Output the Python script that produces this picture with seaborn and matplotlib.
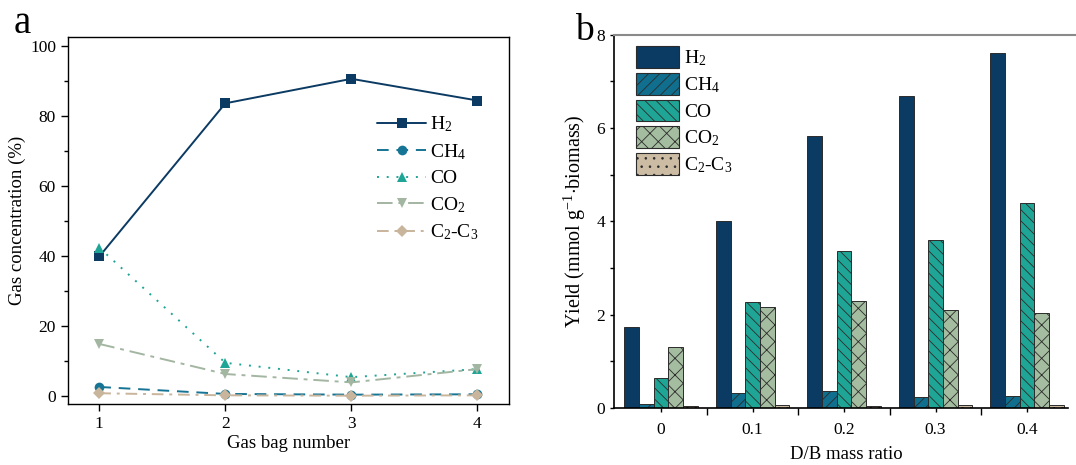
import numpy as np
import pandas as pd
import matplotlib
matplotlib.use("Agg")
import matplotlib.pyplot as plt
import seaborn as sns
from matplotlib.patches import Patch
from matplotlib.ticker import MultipleLocator

# panel a: gas concentration per bag (%)
gas_bags = [1, 2, 3, 4]
h2_conc = [39.8, 83.6, 90.6, 84.4]
ch4_conc = [2.5, 0.5, 0.3, 0.4]
co_conc = [42.3, 9.4, 5.3, 7.6]
co2_conc = [14.8, 6.2, 3.8, 7.6]
c2c3_conc = [0.7, 0.1, 0.0, 0.1]

# panel b: gas yield vs D/B ratio (mmol/g biomass)
db_ratio = ["0", "0.1", "0.2", "0.3", "0.4"]
h2_yield = [1.73, 4.01, 5.82, 6.69, 7.61]
ch4_yield = [0.09, 0.32, 0.35, 0.24, 0.26]
co_yield = [0.64, 2.27, 3.36, 3.61, 4.39]
co2_yield = [1.30, 2.16, 2.29, 2.10, 2.04]
c2c3_yield = [0.03, 0.06, 0.04, 0.06, 0.06]

gas_labels = [r"$\mathregular{H_2}$", r"$\mathregular{CH_4}$", "CO",
              r"$\mathregular{CO_2}$", r"$\mathregular{C_2}$-$\mathregular{C_3}$"]
line_colors = ["#0b3a63", "#167494", "#1fa596", "#a3b6a2", "#c9b49c"]
bar_colors = ["#0b3a63", "#106e8e", "#1fa596", "#a4bc9f", "#cdbca4"]
hatches = ["", "///", "\\\\\\", "xx", ".."]

sns.set_theme(style="ticks")
plt.rcParams["font.family"] = ["Liberation Serif", "DejaVu Serif"]
plt.rcParams["mathtext.fontset"] = "custom"
plt.rcParams["mathtext.rm"] = "Liberation Serif"
plt.rcParams["hatch.linewidth"] = 0.6
plt.rcParams["xtick.direction"] = "out"
plt.rcParams["ytick.direction"] = "out"
plt.rcParams["text.color"] = "black"
plt.rcParams["axes.labelcolor"] = "black"
plt.rcParams["xtick.color"] = "black"
plt.rcParams["ytick.color"] = "black"
plt.rcParams["axes.edgecolor"] = "black"

fig = plt.figure(figsize=(10.76, 4.65), dpi=100)
ax1 = fig.add_axes([0.063, 0.131, 0.410, 0.789])
ax2 = fig.add_axes([0.571, 0.123, 0.432, 0.802])

# ---- panel a
conc_df = pd.DataFrame({"bag": gas_bags * 5,
                        "gas": np.repeat(gas_labels, 4),
                        "value": h2_conc + ch4_conc + co_conc + co2_conc + c2c3_conc})
styles = [("-", "s"), ((0, (6, 4)), "o"), ((0, (1, 4)), "^"), ((0, (8, 3, 2, 3)), "v"), ((0, (6, 3, 1.5, 3)), "D")]
for g, c, (ls, mk) in zip(gas_labels, line_colors, styles):
    sub = conc_df[conc_df["gas"] == g]
    sns.lineplot(data=sub, x="bag", y="value", ax=ax1, color=c, linestyle=ls, marker=mk,
                 markersize=7 if mk != "D" else 6, markeredgewidth=0, lw=1.4, label=g)

ax1.set_xlim(0.75, 4.25)
ax1.set_ylim(-2.4, 102.5)
ax1.set_xticks(gas_bags)
ax1.yaxis.set_major_locator(MultipleLocator(20))
ax1.yaxis.set_minor_locator(MultipleLocator(10))
ax1.tick_params(labelsize=12.5, length=5, width=1)
ax1.tick_params(which="minor", length=3, width=1)
ax1.set_xlabel("Gas bag number", fontsize=13.5, labelpad=2)
ax1.set_ylabel("Gas concentration (%)", fontsize=13.5, labelpad=3)
for s in ax1.spines.values():
    s.set_linewidth(1.0)
ax1.legend(loc="upper left", bbox_to_anchor=(0.68, 0.815), frameon=False, fontsize=14,
           handlelength=2.5, labelspacing=0.4, handletextpad=0.2, borderpad=0)
fig.text(0.013, 1 - 33 / 465, "a", fontsize=28, va="baseline")

# ---- panel b
yield_df = pd.DataFrame({"ratio": db_ratio * 5,
                         "gas": np.repeat(gas_labels, 5),
                         "value": h2_yield + ch4_yield + co_yield + co2_yield + c2c3_yield})
sns.barplot(data=yield_df, x="ratio", y="value", hue="gas", hue_order=gas_labels,
            palette=bar_colors, ax=ax2, width=0.8, gap=0, edgecolor="#2b2b2b", linewidth=0.7,
            saturation=1, legend=False)
for cont, h in zip(ax2.containers, hatches):
    for bar in cont:
        bar.set_hatch(h)

ax2.set_xlim(-0.51, 4.57)
ax2.set_ylim(0, 8)
ax2.yaxis.set_major_locator(MultipleLocator(2))
ax2.yaxis.set_minor_locator(MultipleLocator(1))
ax2.set_xticks(np.arange(0.5, 4.0, 1.0), minor=True)
ax2.tick_params(labelsize=12.5, length=3, width=1)
ax2.tick_params(axis="x", which="minor", length=5, width=1)
ax2.tick_params(axis="y", which="minor", length=3, width=1)
ax2.tick_params(axis="x", pad=7)
ax2.set_xlabel("D/B mass ratio", fontsize=13.5, labelpad=6)
ax2.set_ylabel(r"Yield (mmol g$^{\mathregular{-1}}$$\cdot$biomass)", fontsize=14.5, labelpad=6)
ax2.spines["right"].set_visible(False)
ax2.spines["top"].set_color("#8a8a8a")
ax2.spines["top"].set_linewidth(1.5)
ax2.spines["left"].set_linewidth(1.2)
ax2.spines["bottom"].set_linewidth(1.2)
ax2.spines["bottom"].set_bounds(-0.51, 4.45)

handles = [Patch(facecolor=c, edgecolor="#2b2b2b", hatch=h, lw=0.8) for c, h in zip(bar_colors, hatches)]
ax2.legend(handles, gas_labels, loc="upper left", bbox_to_anchor=(0.025, 0.997), frameon=False,
           fontsize=14, handlelength=2.2, handleheight=1.35, labelspacing=0.25, handletextpad=0.3,
           borderpad=0)
fig.text(0.534, 1 - 40 / 465, "b", fontsize=27, va="baseline")

fig.savefig("out.png", dpi=100)
